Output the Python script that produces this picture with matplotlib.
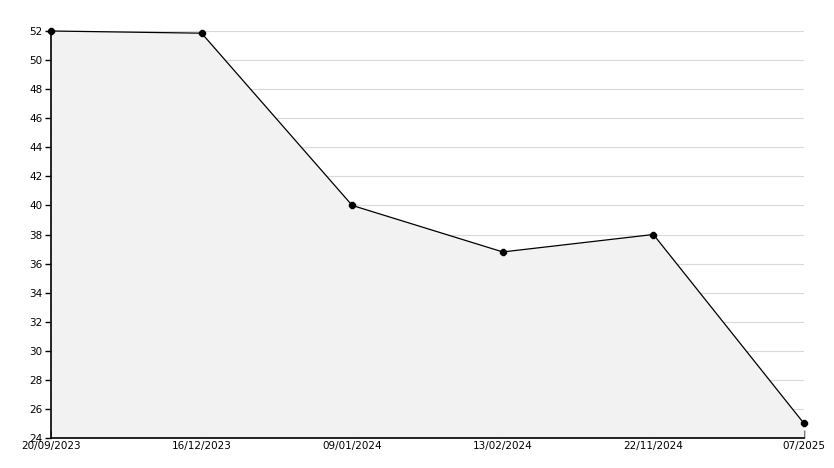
import numpy as np
import matplotlib.pyplot as plt
from matplotlib.ticker import MultipleLocator

# data
dates = ['20/09/2023', '16/12/2023', '09/01/2024', '13/02/2024', '22/11/2024', '07/2025']
values = [52.0, 51.85, 40.0, 36.8, 38.0, 25.0]

x = np.arange(len(dates))

fig = plt.figure(figsize=(8.34, 4.68), dpi=100)
ax = fig.add_axes([51/834, 30/468, (804-51)/834, (438-31)/468])

ax.fill_between(x, values, 24, color='#f2f2f2', zorder=2, linewidth=0)
ax.plot(x, values, color='black', linewidth=0.9, marker='8', markersize=4.5,
        zorder=3, clip_on=False)

ax.set_xlim(0, len(dates) - 1)
ax.set_ylim(24, 52)
ax.yaxis.set_major_locator(MultipleLocator(2))
ax.yaxis.set_minor_locator(MultipleLocator(1))
ax.set_xticks(x)
ax.set_xticklabels(dates)

ax.grid(axis='y', color='#d9d9d9', linewidth=0.8, zorder=1)
ax.set_axisbelow(True)

for s in ['top', 'right']:
    ax.spines[s].set_visible(False)
ax.spines['left'].set_linewidth(1.2)
ax.spines['bottom'].set_linewidth(1.2)
ax.spines['left'].set_zorder(4)
ax.spines['bottom'].set_zorder(4)

ax.tick_params(axis='y', which='major', direction='out', length=4, width=1, labelsize=7.5, pad=2)
ax.tick_params(axis='y', which='minor', direction='in', length=3, width=1)
ax.tick_params(axis='x', which='major', direction='in', length=6, width=1, labelsize=7.5, pad=2)

plt.savefig('out.png', dpi=100)
